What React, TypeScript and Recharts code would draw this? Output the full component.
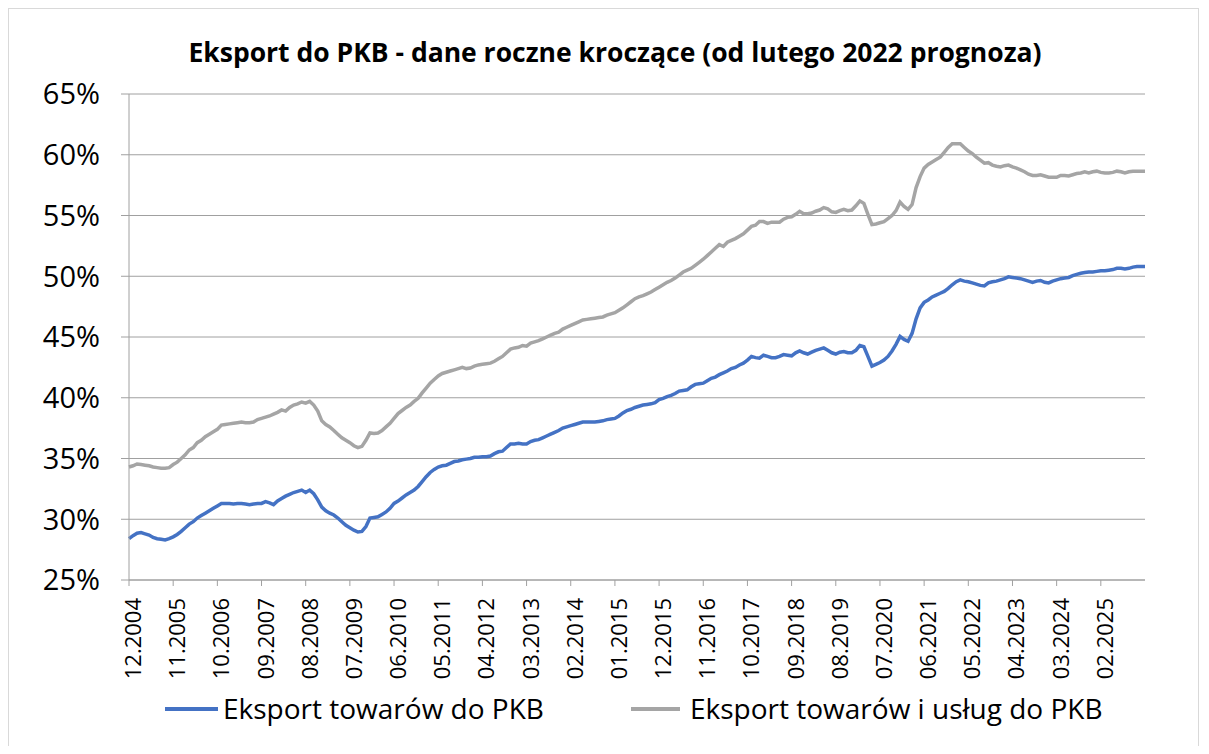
import React from 'react';
import { LineChart, Line, XAxis, YAxis, CartesianGrid } from 'recharts';

// monthly rolling-year shares, 12.2004 .. 01.2026 (from 02.2022 forecast)
const startYear = 2004;
const startMonth = 12;

const towaryDoPkb = [
  28.4, 28.65, 28.85, 28.9, 28.8, 28.7, 28.5, 28.4, 28.35, 28.3, 28.4, 28.55,
  28.75, 29.0, 29.3, 29.6, 29.8, 30.1, 30.3, 30.5, 30.7, 30.9, 31.1, 31.3,
  31.3, 31.3, 31.25, 31.3, 31.3, 31.25, 31.2, 31.25, 31.3, 31.3, 31.45, 31.35,
  31.2, 31.5, 31.7, 31.9, 32.05, 32.2, 32.3, 32.4, 32.2, 32.4, 32.1, 31.6,
  31.0, 30.7, 30.5, 30.35, 30.1, 29.8, 29.5, 29.3, 29.1, 28.95, 29.0, 29.4,
  30.1, 30.15, 30.2, 30.4, 30.6, 30.9, 31.3, 31.5, 31.75, 32.0, 32.2, 32.4,
  32.7, 33.1, 33.5, 33.85, 34.1, 34.3, 34.4, 34.45, 34.6, 34.75, 34.8, 34.9,
  34.95, 35.0, 35.1, 35.1, 35.15, 35.15, 35.2, 35.4, 35.55, 35.6, 35.9, 36.2,
  36.2, 36.25, 36.2, 36.2, 36.4, 36.5, 36.55, 36.7, 36.85, 37.0, 37.15, 37.3,
  37.5, 37.6, 37.7, 37.8, 37.9, 38.0, 38.0, 38.0, 38.0, 38.05, 38.1, 38.2,
  38.25, 38.3, 38.5, 38.75, 38.95, 39.05, 39.2, 39.3, 39.4, 39.45, 39.5, 39.6,
  39.85, 39.95, 40.1, 40.2, 40.35, 40.55, 40.6, 40.65, 40.9, 41.1, 41.15, 41.2,
  41.4, 41.6, 41.7, 41.9, 42.05, 42.2, 42.4, 42.5, 42.7, 42.85, 43.1, 43.4,
  43.3, 43.25, 43.5, 43.4, 43.3, 43.3, 43.4, 43.55, 43.5, 43.45, 43.7, 43.85,
  43.7, 43.6, 43.75, 43.9, 44.0, 44.1, 43.9, 43.7, 43.6, 43.75, 43.8, 43.7,
  43.7, 43.9, 44.3, 44.2, 43.4, 42.6, 42.75, 42.9, 43.1, 43.4, 43.85, 44.4,
  45.05, 44.8, 44.65, 45.3, 46.5, 47.4, 47.85, 48.05, 48.3, 48.45, 48.6, 48.75,
  49.0, 49.3, 49.55, 49.7, 49.6, 49.55, 49.45, 49.35, 49.25, 49.2, 49.45, 49.55,
  49.6, 49.7, 49.8, 49.95, 49.9, 49.85, 49.8, 49.7, 49.6, 49.5, 49.6, 49.65,
  49.5, 49.45, 49.6, 49.7, 49.8, 49.85, 49.9, 50.05, 50.15, 50.25, 50.3, 50.35,
  50.35, 50.4, 50.45, 50.45, 50.5, 50.55, 50.65, 50.65, 50.6, 50.65, 50.75, 50.8,
  50.8, 50.8,
];

const towaryUslugiDoPkb = [
  34.3, 34.4, 34.55, 34.5, 34.45, 34.4, 34.3, 34.25, 34.2, 34.2, 34.25, 34.5,
  34.7, 35.0, 35.3, 35.7, 35.9, 36.3, 36.5, 36.8, 37.0, 37.2, 37.4, 37.75,
  37.8, 37.85, 37.9, 37.95, 38.0, 37.95, 37.95, 38.0, 38.2, 38.3, 38.4, 38.5,
  38.65, 38.8, 39.0, 38.9, 39.2, 39.4, 39.5, 39.65, 39.55, 39.7, 39.4, 38.9,
  38.1, 37.8, 37.6, 37.3, 37.0, 36.7, 36.5, 36.3, 36.05, 35.9, 36.0, 36.5,
  37.1, 37.05, 37.1, 37.3, 37.6, 37.9, 38.3, 38.7, 38.95, 39.2, 39.4, 39.7,
  39.95, 40.4, 40.8, 41.2, 41.5, 41.8, 42.0, 42.1, 42.2, 42.3, 42.4, 42.5,
  42.4, 42.45, 42.6, 42.7, 42.75, 42.8, 42.85, 43.0, 43.2, 43.4, 43.7, 44.0,
  44.1, 44.15, 44.3, 44.25, 44.5, 44.6, 44.7, 44.85, 45.0, 45.15, 45.3, 45.4,
  45.65, 45.8, 45.95, 46.1, 46.25, 46.4, 46.45, 46.5, 46.55, 46.6, 46.65, 46.8,
  46.9, 47.0, 47.2, 47.4, 47.65, 47.9, 48.15, 48.3, 48.4, 48.55, 48.7, 48.9,
  49.1, 49.3, 49.5, 49.65, 49.85, 50.1, 50.35, 50.5, 50.65, 50.9, 51.15, 51.4,
  51.7, 52.0, 52.3, 52.6, 52.45, 52.8, 52.95, 53.1, 53.3, 53.5, 53.8, 54.1,
  54.2, 54.5, 54.5, 54.35, 54.45, 54.45, 54.45, 54.7, 54.85, 54.9, 55.1, 55.35,
  55.15, 55.15, 55.2, 55.35, 55.45, 55.65, 55.55, 55.3, 55.25, 55.4, 55.5, 55.4,
  55.45, 55.8, 56.2, 56.0, 55.1, 54.25, 54.3, 54.4, 54.5, 54.75, 55.0, 55.4,
  56.1, 55.75, 55.5, 55.9, 57.3, 58.2, 58.9, 59.2, 59.4, 59.6, 59.8, 60.2,
  60.6, 60.9, 60.9, 60.9, 60.6, 60.3, 60.1, 59.8, 59.55, 59.3, 59.35, 59.15,
  59.05, 59.0, 59.1, 59.15, 59.0, 58.9, 58.75, 58.6, 58.4, 58.3, 58.3, 58.35,
  58.25, 58.15, 58.15, 58.15, 58.3, 58.3, 58.25, 58.35, 58.45, 58.5, 58.6, 58.5,
  58.6, 58.65, 58.55, 58.5, 58.5, 58.55, 58.65, 58.6, 58.5, 58.6, 58.65, 58.65,
  58.65, 58.65,
];

const xTickLabels = [
  '12.2004', '11.2005', '10.2006', '09.2007', '08.2008', '07.2009', '06.2010', '05.2011',
  '04.2012', '03.2013', '02.2014', '01.2015', '12.2015', '11.2016', '10.2017', '09.2018',
  '08.2019', '07.2020', '06.2021', '05.2022', '04.2023', '03.2024', '02.2025',
];

const yTicks = [25, 30, 35, 40, 45, 50, 55, 60, 65];

const months = towaryDoPkb.map((_, i) => {
  const n = startMonth - 1 + i;
  const m = (n % 12) + 1;
  return `${String(m).padStart(2, '0')}.${startYear + Math.floor(n / 12)}`;
});

const data = months.map((m, i) => ({
  m,
  towary: towaryDoPkb[i],
  uslugi: towaryUslugiDoPkb[i],
}));

const FONT = "'Open Sans', sans-serif";
const BLUE = '#4472C4';
const GRAY = '#A5A5A5';
const AXIS = '#a0a0a0';

const DateTick = (props: any) => {
  const { x, y, payload } = props;
  return (
    <text
      x={0}
      y={0}
      dy={12}
      transform={`translate(${x},${y}) rotate(-90)`}
      textAnchor="end"
      fontSize={22}
      fontFamily={FONT}
      fill="#000"
    >
      {payload.value}
    </text>
  );
};

const App: React.FC = () => {
  return (
    <div
      style={{
        position: 'relative',
        width: 1189,
        height: 737,
        borderTop: '1px solid #d9d9d9',
        borderLeft: '1px solid #d9d9d9',
        borderRight: '1px solid #d9d9d9',
        fontFamily: FONT,
        background: '#fff',
      }}
    >
      <div
        style={{
          position: 'absolute',
          left: 606,
          top: 30,
          transform: 'translateX(-50%)',
          whiteSpace: 'nowrap',
          fontSize: 26.5,
          lineHeight: 1,
          fontWeight: 700,
          color: '#000',
        }}
      >
        Eksport do PKB - dane roczne kroczące (od lutego 2022 prognoza)
      </div>

      <div style={{ position: 'absolute', left: 0, top: 0 }}>
        <LineChart
          width={1189}
          height={700}
          data={data}
          margin={{ top: 85, right: 53, left: 0, bottom: 19 }}
        >
          <CartesianGrid vertical={false} stroke={AXIS} strokeWidth={1} />
          <XAxis
            dataKey="m"
            ticks={xTickLabels}
            interval={0}
            height={110}
            stroke={AXIS}
            tickSize={6}
            tickMargin={12}
            tick={<DateTick />}
          />
          <YAxis
            domain={[25, 65]}
            ticks={yTicks}
            width={120}
            stroke={AXIS}
            tickSize={8}
            tickMargin={21}
            tickFormatter={(v) => `${v}%`}
            tick={{ fontSize: 29, fill: '#000', fontFamily: FONT }}
          />
          <Line
            type="linear"
            dataKey="uslugi"
            stroke={GRAY}
            strokeWidth={3.5}
            dot={false}
            isAnimationActive={false}
          />
          <Line
            type="linear"
            dataKey="towary"
            stroke={BLUE}
            strokeWidth={3.5}
            dot={false}
            isAnimationActive={false}
          />
        </LineChart>
      </div>

      <div style={{ position: 'absolute', left: 156, top: 698, width: 53, height: 3.5, background: BLUE }} />
      <div style={{ position: 'absolute', left: 214, top: 685, fontSize: 28, lineHeight: 1, whiteSpace: 'nowrap' }}>
        Eksport towarów do PKB
      </div>
      <div style={{ position: 'absolute', left: 622, top: 698, width: 49, height: 3.5, background: GRAY }} />
      <div style={{ position: 'absolute', left: 681, top: 685, fontSize: 28, lineHeight: 1, whiteSpace: 'nowrap' }}>
        Eksport towarów i usług do PKB
      </div>
    </div>
  );
};

export default App;
